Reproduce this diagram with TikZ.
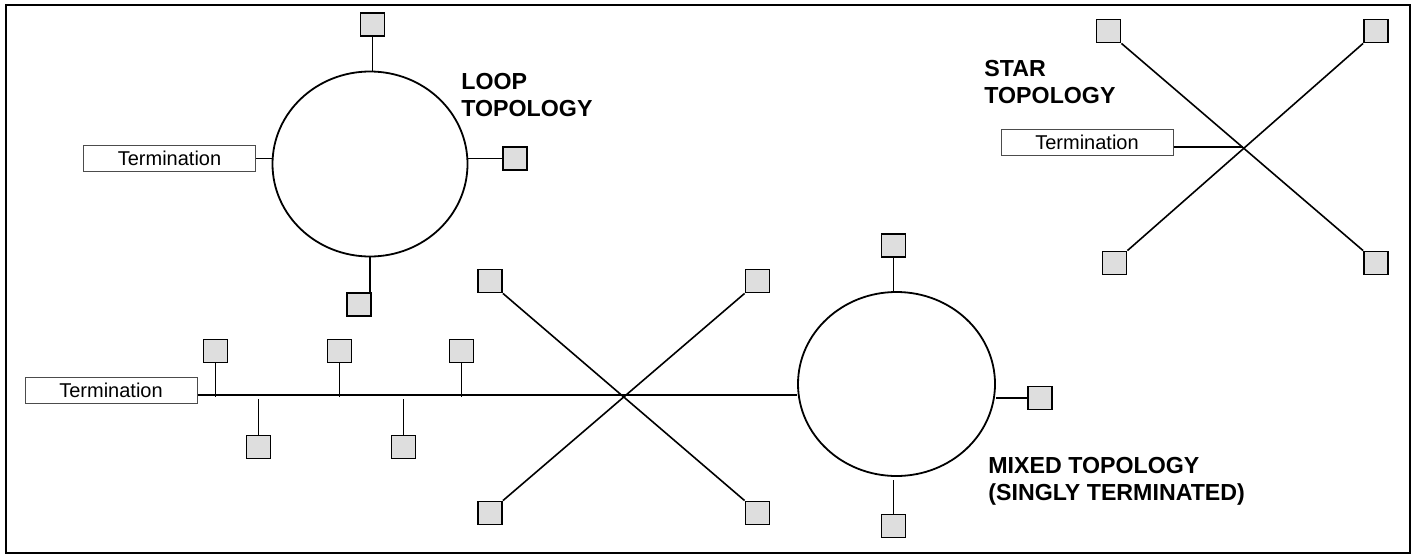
\documentclass[tikz,border=0pt]{standalone}
\usepackage{fontspec}
\setmainfont{Liberation Sans}
\usetikzlibrary{calc,shapes.geometric}

\begin{document}
\begin{tikzpicture}[x=0.5pt,y=-0.5pt,
   dev/.style={draw,fill=black!13,line width=0.9pt,minimum width=12pt,minimum height=11.5pt,inner sep=0pt},
   term/.style={draw=black!70,line width=0.5pt,minimum width=86pt,minimum height=13pt,inner sep=0pt,font=\fontsize{10}{12}\selectfont},
   ring/.style={draw,ellipse,line width=0.9pt,inner sep=0pt},
   topo/.style={anchor=north west,inner sep=0pt,align=left,font=\fontsize{11.6}{13.5}\selectfont\bfseries},
   wire/.style={line width=0.8pt}]
\useasboundingbox (0,0) rectangle (1416,556);
\draw[line width=1.1pt] (6,5) rectangle (1410,553);

\node[ring,minimum width=97.5pt,minimum height=92.5pt] (lc) at (370,164) {};
\node[dev] (lt) at (372.5,24.5) {};
\node[dev] (lr) at (515,158.5) {};
\node[dev] (lb) at (359,304.5) {};
\node[term] (lterm) at (169.5,158.5) {Termination};
\node[topo] (ltitle) at (461,73) {LOOP\\TOPOLOGY};
\draw[wire] (lt.south) -- (lt.south |- lc.north);
\draw[wire] (lr.west) -- (lr.west -| lc.east);
\draw[wire] (lc.south) -- (lc.south |- lb.north);
\draw[wire] (lterm.east) -- (lterm.east -| lc.west);

\coordinate (sc) at (1243,147);
\node[dev] (stl) at (1108.5,31) {};
\node[dev] (str) at (1376,31) {};
\node[dev] (sbl) at (1114.5,263) {};
\node[dev] (sbr) at (1376,263) {};
\node[term] (sterm) at (1087,142.5) {Termination};
\node[topo] (stitle) at (984,60) {STAR\\TOPOLOGY};
\draw[wire] (stl.south east) -- (sbr.north west);
\draw[wire] (str.south west) -- (sbl.north east);
\draw[wire] (sterm.east |- sc) -- (sc);

\node[term] (mterm) at (111,390) {Termination};
\coordinate (bus) at (200,395);
\node[ring,minimum width=98.5pt,minimum height=92pt] (mc) at (896.5,384) {};
\draw[line width=1.1pt] (mterm.east |- bus) -- (bus -| mc.west);
\node[dev] (bu1) at (215.5,351) {};
\node[dev] (bu2) at (339.5,351) {};
\node[dev] (bu3) at (461.5,351) {};
\node[dev] (bd1) at (258.5,447) {};
\node[dev] (bd2) at (403.5,447) {};
\draw[wire] (bu1.south) -- ($(bu1.south |- bus)+(0,2)$);
\draw[wire] (bu2.south) -- ($(bu2.south |- bus)+(0,2)$);
\draw[wire] (bu3.south) -- ($(bu3.south |- bus)+(0,2)$);
\draw[wire] (bd1.north) -- ($(bd1.north |- bus)+(0,4)$);
\draw[wire] (bd2.north) -- ($(bd2.north |- bus)+(0,4)$);

\node[dev] (mtl) at (490,281) {};
\node[dev] (mtr) at (757.5,281) {};
\node[dev] (mbl) at (490,513) {};
\node[dev] (mbr) at (757.5,513) {};
\draw[wire] (mtl.south east) -- (mbr.north west);
\draw[wire] (mtr.south west) -- (mbl.north east);

\node[dev] (mt) at (893.5,245.5) {};
\node[dev] (mr) at (1040,398) {};
\node[dev] (mb) at (893.5,526) {};
\draw[wire] (mt.south) -- (mt.south |- mc.north);
\draw[wire] (mr.west) -- (mr.west -| mc.east);
\draw[wire] (mb.north) -- ($(mb.north |- mc.south)+(0,3)$);
\node[topo] (mtitle) at (988,457) {MIXED TOPOLOGY\\(SINGLY TERMINATED)};
\end{tikzpicture}
\end{document}
